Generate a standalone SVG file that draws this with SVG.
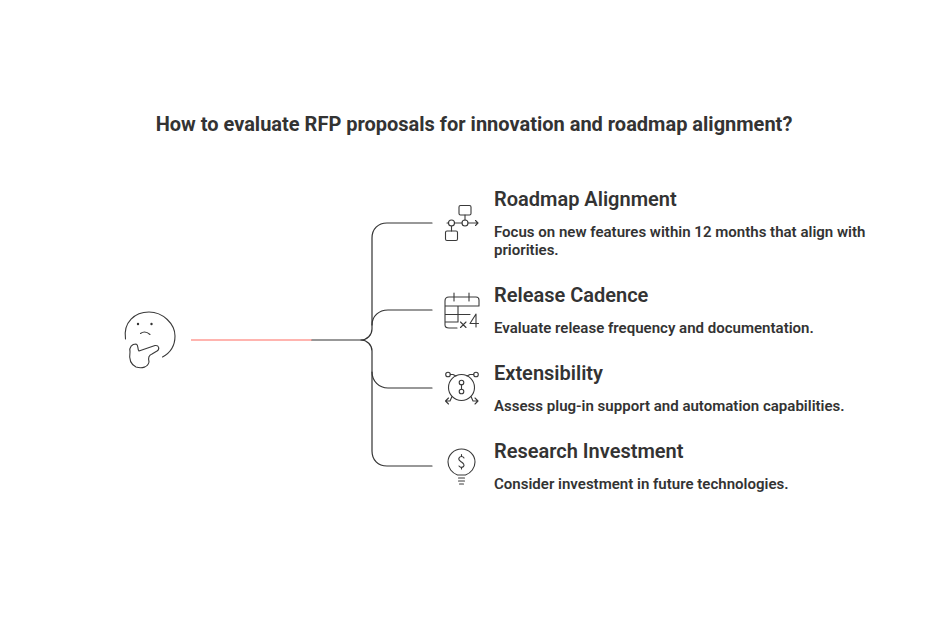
<svg xmlns="http://www.w3.org/2000/svg" width="948" height="632" viewBox="0 0 948 632">
<style>
text{font-family:Roboto,"Liberation Sans",sans-serif;fill:#333}
.t{font-size:20px;font-weight:700}
.h{font-size:20px;font-weight:600}
.b{font-size:15.04px;font-weight:600}
.l{fill:none;stroke:#333;stroke-width:1.2;stroke-linecap:round;stroke-linejoin:round}
.i{fill:none;stroke:#3a3a3a;stroke-width:1.1;stroke-linecap:round;stroke-linejoin:round}
</style>
<rect width="948" height="632" fill="#fff"/>
<text id="title" class="t" x="474" y="131" text-anchor="middle">How to evaluate RFP proposals for innovation and roadmap alignment?</text>
<g id="connectors">
<path d="M191 340H312" fill="none" stroke="#ff9b94" stroke-width="1.4"/>
<path class="l" d="M312 340H361C367 340 372 335 372 329V238C372 229 378 223 387 223H432"/>
<path class="l" d="M372 325C372 316 379 310 388 310H432"/>
<path class="l" d="M361 340C367 340 372 345 372 351V451C372 460 378 466 387 466H432"/>
<path class="l" d="M372 372C372 381 379 388 388 388H432"/>
</g>
<g id="thinker">
<path class="i" d="M125.500 339C123 322 135 312 149 312C163 312 175 324 175 336C175 346 170 353 162.500 357"/>
<circle cx="138" cy="324" r="1.200" fill="#333"/><circle cx="151.500" cy="324" r="1.200" fill="#333"/>
<path class="i" d="M140.500 333.500Q145 330 150 334.500"/>
<path class="i" d="M136 344C132 344 129 347 130 352C129 358 130 364 136 367C142 369 148 367 149 362C148 358 149 355 152 354L157 351C160 349 159 345 155 345.500L139 351C137 349 139 345 136 344Z"/>
</g>
<g id="node-roadmap">
<rect class="i" x="459" y="205.500" width="12" height="9.500" rx="1.500"/>
<rect class="i" x="445.500" y="231" width="12" height="9.500" rx="1.500"/>
<circle class="i" cx="451.500" cy="223" r="3"/><circle class="i" cx="465" cy="223" r="3"/>
<path class="i" d="M447 223H448.500M454.500 223H462M468 223H478M475.500 220.500L478 223L475.500 225.500M465 215V220M451.500 226V231"/>
<text class="h" x="494" y="206">Roadmap Alignment</text>
<text class="b" x="494" y="237">Focus on new features within 12 months that align with</text>
<text class="b" x="494" y="255">priorities.</text>
</g>
<g id="node-release">
<path class="i" d="M445 322V301C445 298 447 297 449 297H476C478 297 479 298 479 300V306M445 306H479M445 314.500H470M445 322H458M458 306V322M454 293V301M469 293V301M445 322V325C445 327 447 328 449 328H457"/>
<path class="i" d="M460.500 322L466 327.500M466 322L460.500 327.500M476 327V314L470 323.500H478.500"/>
<text class="h" x="494" y="302">Release Cadence</text>
<text class="b" x="494" y="333">Evaluate release frequency and documentation.</text>
</g>
<g id="node-extensibility">
<circle class="i" cx="461.500" cy="387.500" r="13"/>
<circle class="i" cx="461.500" cy="382.500" r="2.300"/><circle class="i" cx="461.500" cy="391.500" r="2.300"/>
<path class="i" d="M461.500 384.800V389.200"/>
<circle class="i" cx="448" cy="374.500" r="2.300"/><circle class="i" cx="476" cy="374.500" r="2.300"/>
<path class="i" d="M450.300 374.500H453L456 376M473.700 374.500H470L467 376M452 396.500L450 401H445.500M445.500 401L448.500 398M445.500 401L448.500 404M471 396.500L473 401H478M478 401L475 398M478 401L475 404"/>
<text class="h" x="494" y="380">Extensibility</text>
<text class="b" x="494" y="411">Assess plug-in support and automation capabilities.</text>
</g>
<g id="node-research">
<path class="i" d="M457.500 475C452 473 448 468 448 462C448 455 454 449 461.500 449C469 449 475 455 475 462C475 468 471 473 465.500 475Z"/>
<path class="i" d="M464 458C463 456 460 456 459 458C458 460 460 461 461.500 462C463 463 465 465 463.500 466.500C462 468 460 467.500 459 466M461.500 454.500V456M461.500 467.500V469"/>
<path class="i" d="M458.500 478H464.500M458.500 481H464.500M459.500 484H463.500"/>
<text class="h" x="494" y="458">Research Investment</text>
<text class="b" x="494" y="489">Consider investment in future technologies.</text>
</g>
</svg>
